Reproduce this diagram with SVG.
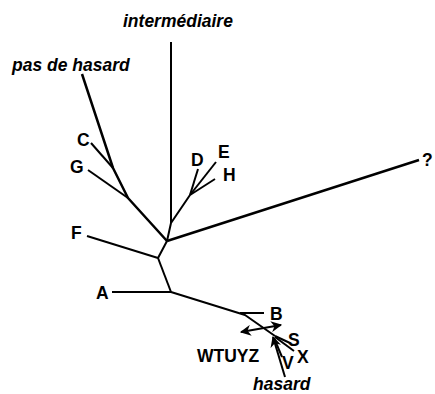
<svg xmlns="http://www.w3.org/2000/svg" width="435" height="394" viewBox="0 0 435 394">
  <style>
    .edge { fill: none; stroke: #000; stroke-width: 2; stroke-linejoin: round; stroke-linecap: butt; }
    .thick { stroke-width: 2.5; }
    .lbl { font-family: "Liberation Sans", Arial, sans-serif; font-weight: bold; font-size: 17.5px; fill: #000; }
    .it { font-style: italic; font-size: 17.5px; }
  </style>
  <defs>
    <marker id="head" viewBox="0 0 10 10" refX="9" refY="5" markerWidth="5.5" markerHeight="5.5" orient="auto-start-reverse" markerUnits="strokeWidth">
      <path d="M0,0 L10,5 L0,10 L3,5 Z" fill="#000"/>
    </marker>
  </defs>
  <rect width="435" height="394" fill="#fff"/>

  <g id="connectors">
    <!-- upper-left branch towards "pas de hasard" -->
    <polyline class="edge thick" points="82,74 113,168 128,198 167,241"/>
    <line class="edge" x1="91" y1="143" x2="113" y2="168"/>
    <line class="edge" x1="88" y1="170" x2="128" y2="198"/>
    <!-- vertical branch towards "intermédiaire" -->
    <line class="edge" x1="171" y1="42" x2="171" y2="223"/>
    <polyline class="edge" points="167,241 171,223 190,195"/>
    <line class="edge" x1="190" y1="195" x2="198" y2="169"/>
    <line class="edge" x1="190" y1="195" x2="216" y2="162"/>
    <line class="edge" x1="190" y1="195" x2="215" y2="179"/>
    <!-- long branch towards "?" -->
    <line class="edge thick" x1="167" y1="241" x2="419" y2="160"/>
    <!-- F, A and the lower branch -->
    <line class="edge" x1="87" y1="236" x2="158" y2="258"/>
    <line class="edge" x1="158" y1="258" x2="167" y2="241"/>
    <line class="edge" x1="158" y1="258" x2="171" y2="292"/>
    <line class="edge" x1="112" y1="292" x2="171" y2="292"/>
    <polyline class="edge" points="171,292 245,315 275,336"/>
    <line class="edge" x1="240" y1="313" x2="264" y2="313"/>
    <!-- double-headed arrow -->
    <line class="edge" x1="241" y1="332" x2="281" y2="325" marker-start="url(#head)" marker-end="url(#head)"/>
    <!-- terminal twigs near "hasard" -->
    <line class="edge" x1="275" y1="336" x2="290" y2="343"/>
    <line class="edge" x1="275" y1="337" x2="294" y2="351"/>
    <line class="edge" x1="274" y1="338" x2="282" y2="357"/>
    <line class="edge" x1="285" y1="377" x2="273" y2="337" marker-end="url(#head)"/>
  </g>

  <g id="intermediaire"><text class="lbl it" x="123" y="27" font-size="16.5">intermédiaire</text></g>
  <g id="pas-de-hasard"><text class="lbl it" x="12" y="71">pas de hasard</text></g>
  <g id="C"><text class="lbl" x="77" y="146">C</text></g>
  <g id="G"><text class="lbl" x="70" y="173">G</text></g>
  <g id="D"><text class="lbl" x="191" y="166">D</text></g>
  <g id="E"><text class="lbl" x="218" y="158">E</text></g>
  <g id="H"><text class="lbl" x="223" y="181">H</text></g>
  <g id="Q"><text class="lbl" x="422" y="166" font-size="16">?</text></g>
  <g id="F"><text class="lbl" x="71" y="239">F</text></g>
  <g id="A"><text class="lbl" x="96" y="299">A</text></g>
  <g id="B"><text class="lbl" x="270" y="320">B</text></g>
  <g id="S"><text class="lbl" x="288" y="346">S</text></g>
  <g id="X"><text class="lbl" x="297" y="363">X</text></g>
  <g id="V"><text class="lbl" x="282" y="369">V</text></g>
  <g id="WTUYZ"><text class="lbl" x="197" y="362" font-size="18">WTUYZ</text></g>
  <g id="hasard"><text class="lbl it" x="253" y="390">hasard</text></g>
</svg>
